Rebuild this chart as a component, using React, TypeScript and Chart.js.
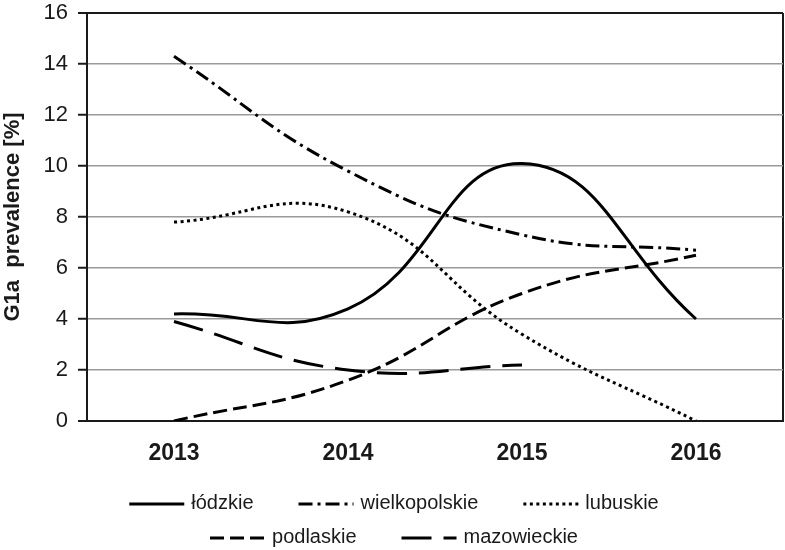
import React, { useEffect, useRef } from 'react';
import { Chart, registerables } from 'chart.js';

Chart.register(...registerables);

const years = ['2013', '2014', '2015', '2016'];
const seriesNames = ['łódzkie', 'wielkopolskie', 'lubuskie', 'podlaskie', 'mazowieckie'];
const lodzkie = [4.2, 4.4, 10.1, 4.0];
const wielkopolskie = [14.3, 9.8, 7.3, 6.7];
const lubuskie = [7.8, 8.2, 3.4, 0];
const podlaskie = [0, 1.6, 5.0, 6.5];
const mazowieckie = [3.9, 2.0, 2.2, null];
const yMin = 0;
const yMax = 16;
const yStep = 2;
const yTitle = 'G1a  prevalence [%]';

const FONT = '"Liberation Sans", Arial, sans-serif';
const INK = '#1a1a1a';

const legendRows = [[0, 1, 2], [3, 4]];

const legendPlugin = {
  id: 'customLegend',
  afterDraw(chart: any) {
    const ctx = chart.ctx as CanvasRenderingContext2D;
    const rowY = [503, 537];
    const sampleW = 55;
    const gap = 7;
    const spacing = 45;
    const cx = 394;
    ctx.save();
    ctx.font = `20px ${FONT}`;
    ctx.textBaseline = 'middle';
    ctx.textAlign = 'left';
    legendRows.forEach((row, r) => {
      const widths = row.map(
        (i) => sampleW + gap + ctx.measureText(chart.data.datasets[i].label).width
      );
      const total = widths.reduce((a, b) => a + b, 0) + spacing * (row.length - 1);
      let x = cx - total / 2;
      row.forEach((i, k) => {
        const ds = chart.data.datasets[i];
        ctx.beginPath();
        ctx.setLineDash(ds.borderDash || []);
        ctx.lineWidth = 3;
        ctx.lineCap = 'butt';
        ctx.strokeStyle = ds.borderColor;
        ctx.moveTo(x, rowY[r] + 1);
        ctx.lineTo(x + sampleW, rowY[r] + 1);
        ctx.stroke();
        ctx.setLineDash([]);
        ctx.fillStyle = INK;
        ctx.fillText(ds.label, x + sampleW + gap, rowY[r]);
        x += widths[k] + spacing;
      });
    });
    ctx.restore();
  },
};

export default function App() {
  const ref = useRef<HTMLCanvasElement | null>(null);

  useEffect(() => {
    if (!ref.current) return;
    const seriesData = [lodzkie, wielkopolskie, lubuskie, podlaskie, mazowieckie];
    const dashes = [[], [14, 5, 3, 5], [3, 3.5], [14, 6], [30, 12]];
    const chart = new Chart(ref.current, {
      type: 'line',
      data: {
        labels: years,
        datasets: seriesNames.map((name, i) => ({
          label: name,
          data: seriesData[i],
          borderColor: '#000000',
          backgroundColor: '#000000',
          borderWidth: 3,
          borderDash: dashes[i],
          borderCapStyle: 'butt',
          pointRadius: 0,
          tension: 0.45,
          fill: false,
          spanGaps: false,
        })),
      },
      options: {
        responsive: false,
        animation: false,
        layout: { autoPadding: false, padding: { top: 13, right: 2, left: 0, bottom: 79 } },
        plugins: {
          legend: { display: false },
          tooltip: { enabled: false },
        },
        scales: {
          x: {
            offset: true,
            grid: {
              offset: true,
              drawTicks: false,
              color: (c: any) => (c.type === 'scale' || c.index === undefined ? INK : 'rgba(0,0,0,0)'),
              lineWidth: 2,
            },
            border: { color: INK, width: 2 },
            ticks: {
              color: INK,
              padding: 19,
              font: { family: FONT, size: 23, weight: 'bold' },
            },
            afterFit: (s: any) => {
              s.height = 50;
              s.paddingLeft = 0;
              s.paddingRight = 0;
            },
          },
          y: {
            min: yMin,
            max: yMax,
            ticks: {
              stepSize: yStep,
              color: INK,
              padding: 10,
              font: { family: FONT, size: 22 },
            },
            grid: {
              color: (c: any) =>
                c.tick && (c.tick.value === yMax || c.tick.value === yMin) ? INK : '#9a9a9a',
              lineWidth: (c: any) =>
                c.tick && (c.tick.value === yMax || c.tick.value === yMin) ? 2 : 1.5,
              tickColor: INK,
              tickWidth: 2,
              tickLength: 9,
            },
            border: { color: INK, width: 2 },
            title: {
              display: true,
              text: yTitle,
              color: INK,
              padding: { top: 0, bottom: 0 },
              font: { family: FONT, size: 22, weight: 'bold' },
            },
            afterFit: (s: any) => {
              s.width = 87;
              s.paddingTop = 0;
              s.paddingBottom = 0;
            },
          },
        },
      },
      plugins: [legendPlugin],
    });
    return () => chart.destroy();
  }, []);

  return (
    <div style={{ position: 'absolute', left: 0, top: 0, width: 785, height: 550, background: '#fff' }}>
      <canvas ref={ref} width={785} height={550} style={{ display: 'block' }} />
    </div>
  );
}
